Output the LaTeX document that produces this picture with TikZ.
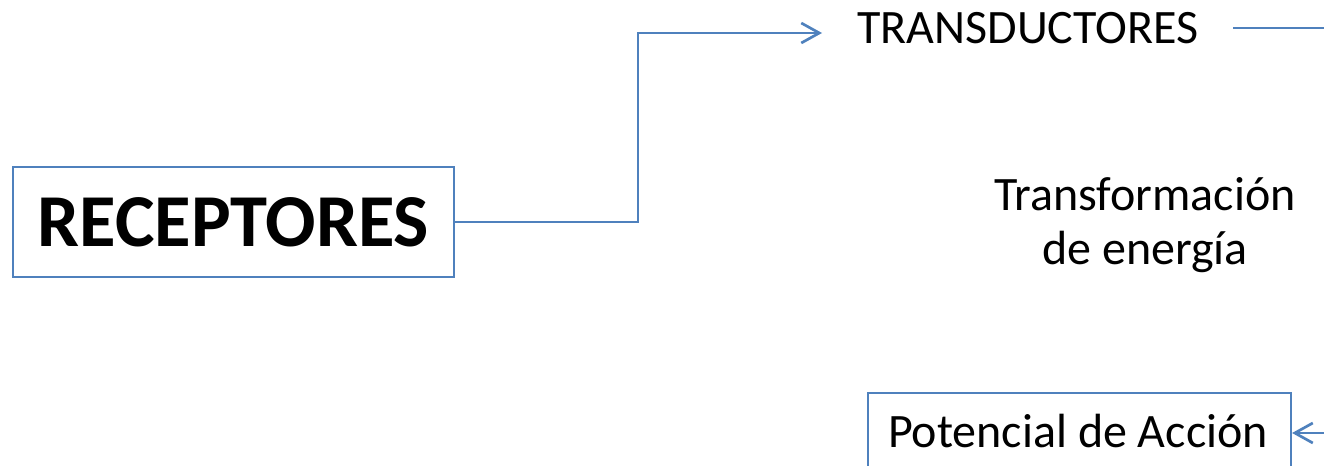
\documentclass[tikz,border=0pt]{standalone}
\usepackage{fontspec}
\setmainfont{Carlito}
\usetikzlibrary{arrows.meta}
\definecolor{lineblue}{RGB}{79,129,189}
\tikzset{
  conn/.style={draw=lineblue, line width=2pt},
  tip/.style={-{Straight Barb[length=13.5pt,width=15pt,line width=2pt]}},
  boxed/.style={draw=lineblue, line width=1.6pt, inner sep=0pt},
  plain/.style={inner sep=0pt, font=\fontsize{36}{41}\selectfont}
}
\begin{document}
\begin{tikzpicture}[x=0.75pt,y=-0.75pt]
\useasboundingbox (0,0) rectangle (1324,466);
\clip (0,0) rectangle (1324,466);
\node[boxed, minimum width=441*0.75pt, minimum height=110*0.75pt, font=\fontsize{56}{60}\selectfont\bfseries] (rec) at (233.5,222) {RECEPTORES};
\node[plain, anchor=base] (trans) at (1028,44) {TRANSDUCTORES};
\node[plain, align=center] (energ) at (1145,225) {Transformación\\de energía};
\node[boxed, plain, minimum width=423*0.75pt, minimum height=80*0.75pt] (pot) at (1079.5,433) {};
\node[plain, anchor=base] (pottext) at (1078,447) {Potencial de Acción};
\coordinate (corner1) at (638,222);
\coordinate (corner2) at (638,33);
\coordinate (arrowend) at (822,33);
\coordinate (lineA) at (1233,28);
\coordinate (lineB) at (1330,28);
\coordinate (arrowstart) at (1330,433);
\draw[conn, tip] (rec.east) -- (corner1) -- (corner2) -- (arrowend);
\draw[conn] (lineA) -- (lineB);
\draw[conn, tip] (arrowstart) -- (pot.east);
\end{tikzpicture}
\end{document}
